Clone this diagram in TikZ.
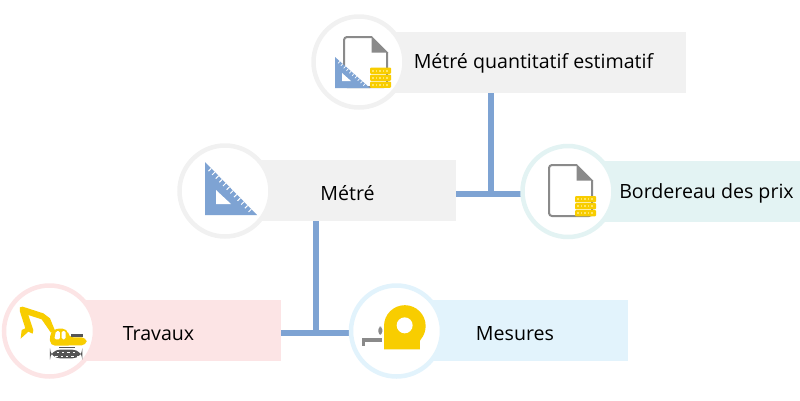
\documentclass[tikz,border=0pt]{standalone}
\usepackage{fontspec}
\setmainfont{Open Sans}
\usetikzlibrary{calc}
\definecolor{linkblue}{HTML}{7EA3D3}
\definecolor{greybar}{HTML}{F1F1F1}
\definecolor{tealbar}{HTML}{E3F3F3}
\definecolor{pinkbar}{HTML}{FCE4E5}
\definecolor{bluebar}{HTML}{E2F3FC}
\definecolor{gold}{HTML}{F8CD00}
\definecolor{coinline}{HTML}{FFE566}
\definecolor{docgrey}{HTML}{8A8A8A}
\definecolor{trackgrey}{HTML}{555555}
\tikzset{
  bar/.style={draw=none,inner sep=0pt,minimum height=61pt,anchor=north west},
  ring/.style={circle,fill=white,line width=4.5pt,minimum size=91pt,inner sep=0pt},
  link/.style={draw=linkblue,line width=6pt},
  lbl/.style={font=\fontsize{19.6pt}{22pt}\selectfont,text=black,inner sep=0pt},
  docline/.style={draw=docgrey,line width=2pt,rounded corners=3pt,fill=white},
  docfold/.style={fill=docgrey},
  coinbox/.style={fill=gold,rounded corners=1pt},
  iconblue/.style={fill=linkblue},
}
\newcommand{\coinstack}[2]{%
  \foreach \cy in {0,7,14}{
    \fill[coinbox] (#1,#2+\cy) rectangle ++(21,6.4);
    \foreach \cx in {3,6.5,10,13.5,17}
      \fill[coinline] (#1+\cx-.6,#2+\cy+2) rectangle ++(1.2,2.4);
  }}
\newcommand{\docicon}[4]{% left top right bottom
  \draw[docline] (#3-15,#2) -- (#1,#2) -- (#1,#4) -- (#3,#4) -- (#3,#2+15);
  \fill[docfold] (#3-15.5,#2-1) -- (#3+1,#2+15.5) -- (#3-15.5,#2+15.5) -- cycle;}
\begin{document}
\begin{tikzpicture}[x=1pt,y=-1pt]
\useasboundingbox (0,0) rectangle (800,400);
% bars
\node[bar,fill=greybar,minimum width=326pt] (qbar) at (360,32) {};
\node[bar,fill=greybar,minimum width=231pt] (mbar) at (225,160) {};
\node[bar,fill=tealbar,minimum width=232pt] (bbar) at (568,161) {};
\node[bar,fill=pinkbar,minimum width=232pt] (tbar) at (49,300) {};
\node[bar,fill=bluebar,minimum width=232pt] (sbar) at (396,300) {};
% junctions
\coordinate (j1) at (491,194);
\coordinate (j2) at (316,333);
% connectors
\draw[link] (qbar.south -| j1) -- (j1);
\draw[link] (mbar.east |- j1) -- (j1) -- (568,194);
\draw[link] (mbar.south -| j2) -- (j2);
\draw[link] (tbar.east |- j2) -- (j2) -- (396,333);
% rings
\node[ring,draw=greybar] (qring) at (359,62) {};
\node[ring,draw=greybar] (mring) at (225,191) {};
\node[ring,draw=tealbar] (bring) at (568,191.5) {};
\node[ring,draw=pinkbar] (tring) at (49.5,331) {};
\node[ring,draw=bluebar] (sring) at (396.5,331) {};
% labels
\node[lbl] (qlbl) at (533.5,63.5) {Métré quantitatif estimatif};
\node[lbl] (mlbl) at (347.5,193.5) {Métré};
\node[lbl] (blbl) at (706.5,193.5) {Bordereau des prix};
\node[lbl] (tlbl) at (158.5,333.5) {Travaux};
\node[lbl] (slbl) at (515,333.5) {Mesures};
% icon: estimate
\docicon{344}{37}{387}{87}
\fill[iconblue] (335,57) -- (335,88) -- (370,88) -- cycle;
\fill[white] (342,73) -- (342,81) -- (351,81) -- cycle;
\foreach \t in {0.14,0.22,...,0.9}
  \draw[white,line width=.7pt] ($(335,57)!\t!(370,88)$) -- ++(-1.8,2);
\coinstack{370}{67.5}
% icon: set square
\fill[iconblue] (205,162) -- (205,215) -- (257,215) -- cycle;
\fill[white] (216,190) -- (216,204) -- (231,204) -- cycle;
\foreach \t in {0.12,0.19,...,0.93}
  \draw[white,line width=1pt] ($(205,162)!\t!(257,215)$) -- ++(-2.8,2.8);
% icon: price list
\docicon{549}{165}{592}{216}
\coinstack{575}{196}
% icon: excavator
\begin{scope}[shift={(0,280)},x=.3333pt,y=-.3333pt]
\fill[gold] (60,82) -- (68,80) -- (130,100) -- (150,115) -- (165,152) -- (152,157) -- (125,118) -- (85,105) -- (100,150) -- (98,161) -- (85,155) -- (62,176) -- (65,150) -- (76,145) -- (60,95) -- cycle;
\fill[gold,rounded corners=5pt] (150,197) -- (150,160) -- (162,146) -- (203,146) -- (205,172) -- (260,172) -- (260,196) -- cycle;
\fill[white,rounded corners=1.5pt] (168,153) -- (180,153) -- (180,178) -- (163,178) -- cycle;
\fill[white,rounded corners=1.5pt] (185,153) -- (197,153) -- (197,178) -- (185,178) -- cycle;
\fill[trackgrey] (212,163) rectangle (250,170);
\fill[trackgrey] (178,200) rectangle (225,205);
\fill[trackgrey,rounded corners=10pt] (150,209) rectangle (247,235);
\foreach \dx in {170,186,202,218}
  \fill[white] (\dx,215) rectangle ++(7,2.5);
\foreach \dx in {166,182,198,214,230}
  \fill[white] (\dx,227) rectangle ++(7,2.5);
\end{scope}
% icon: tape measure
\begin{scope}[shift={(345,280)},x=.3333pt,y=-.3333pt]
\fill[gold] (117,208) -- (117,138) arc[start angle=180,end angle=400,radius=62.5] -- (225,182) -- (225,208) -- cycle;
\fill[white] (179,136) circle[radius=24];
\fill[docgrey,rounded corners=3pt] (100,140) rectangle (112,164);
\fill[docgrey] (51,173) rectangle (112,185);
\fill[docgrey] (51,173) rectangle (60,198);
\end{scope}
\end{tikzpicture}
\end{document}
